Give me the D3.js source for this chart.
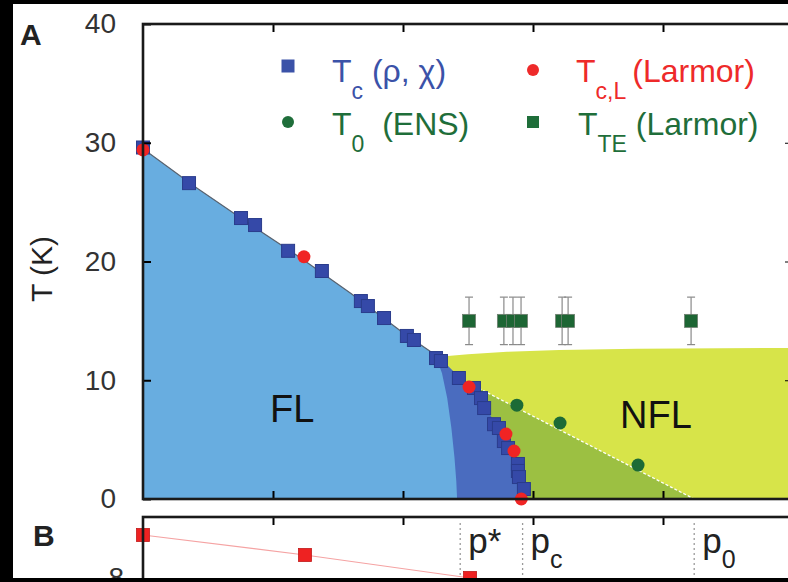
<!DOCTYPE html>
<html lang="en">
<head>
<meta charset="UTF-8">
<script src="https://cdn.jsdelivr.net/npm/d3@7"></script>
<title>Phase diagram</title>
<style>
	body { margin: 0; background: #000; }
	svg { display: block; }
	text { font-family: "Liberation Sans", Arial, sans-serif; white-space: pre; }
</style>
</head>
<body>
<div id="chart"></div>
<script>
	/*------------------- data (p in kbar, T in K) -------------------*/
	// T_c from resistivity / susceptibility
	const tcP = [0, 1.77, 3.77, 4.31, 5.58, 6.88, 8.38, 8.65, 9.27, 10.15, 10.42, 11.27, 11.46, 12.15, 12.73, 13.0, 13.12, 13.5, 13.69, 13.88, 14.04, 14.42, 14.42, 14.46, 14.65];
	const tcT = [29.6, 26.6, 23.66, 23.07, 20.9, 19.2, 16.67, 16.25, 15.24, 13.73, 13.39, 11.87, 11.62, 10.19, 9.35, 8.5, 7.66, 6.3, 5.98, 4.88, 4.29, 2.95, 2.36, 1.85, 0.84];
	// T_c,L from Larmor diffraction
	const tclP = [0, 6.19, 12.54, 13.96, 14.27, 14.55];
	const tclT = [29.4, 20.4, 9.43, 5.47, 4.04, 0];
	// T_0 from ENS
	const t0P = [14.38, 16.04, 19.04];
	const t0T = [7.9, 6.4, 2.86];
	// T_TE from Larmor diffraction, with error
	const tteP = [12.54, 13.88, 14.23, 14.54, 16.12, 16.35, 21.08];
	const tteT = [15, 15, 15, 15, 15, 15, 15];
	const tteErr = [2, 2, 2, 2, 2, 2, 2];

	// phase boundaries
	const tcLine = [[0, 29.5], [2, 26.3], [4, 23.3], [6, 20.4], [8, 17.3], [10, 14.0], [11, 12.5], [11.5, 11.7], [12.15, 10.3], [13.0, 8.5], [13.5, 6.5], [13.95, 4.8], [14.42, 2.9], [14.55, 1.8], [14.68, 0.8], [14.75, 0]];
	const flEdge = [[11.25, 12.1], [11.5, 10.6], [11.7, 8.5], [11.86, 6], [11.98, 3.5], [12.05, 1.5], [12.08, 0]];
	const nflTop = [[11.5, 12.0], [12.5, 12.2], [14, 12.4], [16, 12.55], [19, 12.65], [25, 12.72]];
	const t0Line = [[12.4, 9.9], [21.2, 0]];

	// panel B
	const bP = [0, 6.23, 12.58];
	const bV = [8.43, 8.23, 8.0];

	const pTicks = [5, 10, 15, 20];
	const tTicks = [0, 10, 20, 30, 40];
	const markP = [12.2, 14.6, 21.2];
	const markName = ["p*", "p", "p"];
	const markSub = ["", "c", "0"];

	const legMain = ["T", "T", "T", "T"];
	const legSub = ["c", "0", "c,L", "TE"];
	const legRest = [" (ρ, χ)", "  (ENS)", "(Larmor)", " (Larmor)"];
	const legColor = ["#3b52a8", "#1f6e3a", "#ee2a2a", "#1f6e3a"];
	const legShape = ["square", "circle", "circle", "tesquare"];

	/*------------------- setup -------------------*/
	const W = 788, H = 582;
	const svg = d3.select("#chart").append("svg").attr("width", W).attr("height", H);
	svg.append("rect").attr("width", W).attr("height", H).attr("fill", "#fff");

	const x = d3.scaleLinear().domain([0, 25]).range([143, 793]);
	const y = d3.scaleLinear().domain([0, 40]).range([499, 24]);
	const yB = d3.scaleLinear().domain([8, 9]).range([578, 478]);

	const line = d3.line().x(d => x(d[0])).y(d => y(d[1]));

	/*------------------- regions -------------------*/
	// NFL (yellow)
	svg.append("path")
		.attr("d", line(nflTop.concat([[25, 0], [11.5, 0]])) + "Z")
		.attr("fill", "#d7e449");
	// below T0 (olive)
	svg.append("path")
		.attr("d", line(t0Line.concat([[12.4, 0]])) + "Z")
		.attr("fill", "#9cc042");
	// ordered region under Tc (dark blue)
	svg.append("path")
		.attr("d", line(tcLine.concat([[0, 0]])) + "Z")
		.attr("fill", "#4a6cbf");
	// FL part (light blue)
	const flPoly = tcLine.filter(d => d[0] < 11.25).concat(flEdge, [[0, 0]]);
	svg.append("path")
		.attr("d", line(flPoly) + "Z")
		.attr("fill", "#68ade0");

	// Tc boundary line
	svg.append("path")
		.attr("d", line(tcLine.filter(d => d[0] <= 11.5)))
		.attr("fill", "none").attr("stroke", "#5a6470").attr("stroke-width", 1.2);
	// T0 dashed line
	svg.append("path")
		.attr("d", line(t0Line))
		.attr("fill", "none").attr("stroke", "#fff").attr("stroke-width", 1.3)
		.attr("stroke-dasharray", "3,2");

	svg.append("text").attr("x", 270).attr("y", 422).attr("font-size", 38).attr("fill", "#111").text("FL");
	svg.append("text").attr("x", 620).attr("y", 428).attr("font-size", 38).attr("fill", "#111").text("NFL");

	/*------------------- markers -------------------*/
	const sq = 13;
	// T_TE error bars
	const te = svg.append("g");
	tteP.forEach((p, i) => {
		const cx = x(p), y1 = y(tteT[i] + tteErr[i]), y2 = y(tteT[i] - tteErr[i]);
		te.append("line").attr("x1", cx).attr("x2", cx).attr("y1", y1).attr("y2", y2)
			.attr("stroke", "#8a8a8a").attr("stroke-width", 1.2);
		[y1, y2].forEach(yy => te.append("line").attr("x1", cx - 4).attr("x2", cx + 4)
			.attr("y1", yy).attr("y2", yy).attr("stroke", "#8a8a8a").attr("stroke-width", 1.2));
	});
	te.selectAll("rect").data(tteP).enter().append("rect")
		.attr("x", d => x(d) - sq / 2).attr("y", (d, i) => y(tteT[i]) - sq / 2)
		.attr("width", sq).attr("height", sq)
		.attr("fill", "#1d6634").attr("stroke", "#6f7f70").attr("stroke-width", 0.8);

	// Tc squares
	svg.append("g").selectAll("rect").data(tcP).enter().append("rect")
		.attr("x", d => x(d) - sq / 2).attr("y", (d, i) => y(tcT[i]) - sq / 2)
		.attr("width", sq).attr("height", sq)
		.attr("fill", "#3549a8").attr("stroke", "#2a3c8c").attr("stroke-width", 1);

	// T0 circles
	svg.append("g").selectAll("circle").data(t0P).enter().append("circle")
		.attr("cx", d => x(d)).attr("cy", (d, i) => y(t0T[i])).attr("r", 6.5)
		.attr("fill", "#1c6b36");

	// Tc,L circles
	svg.append("g").selectAll("circle").data(tclP).enter().append("circle")
		.attr("cx", d => x(d)).attr("cy", (d, i) => y(tclT[i])).attr("r", 6.5)
		.attr("fill", "#f02424");

	/*------------------- legend -------------------*/
	const legX = [288, 288, 533, 533], legY = [66, 122, 70, 122];
	const txtX = [332, 332, 576, 578], baseY = [82, 135, 82, 135];
	const restDx = [0, 0, 6, 0];
	legMain.forEach((m, i) => {
		const c = legColor[i];
		if (legShape[i] == "circle") {
			svg.append("circle").attr("cx", legX[i]).attr("cy", legY[i]).attr("r", 6).attr("fill", c);
		} else {
			const s = legShape[i] == "square" ? 13 : 12;
			svg.append("rect").attr("x", legX[i] - s / 2).attr("y", legY[i] - s / 2)
				.attr("width", s).attr("height", s).attr("fill", c);
		}
		const t = svg.append("text").attr("x", txtX[i]).attr("y", baseY[i])
			.attr("font-size", 32).attr("fill", c);
		t.append("tspan").text(m);
		t.append("tspan").attr("font-size", 23).attr("dy", 17).text(legSub[i]);
		t.append("tspan").attr("dy", -17).attr("dx", restDx[i]).text(legRest[i]);
	});

	/*------------------- axes panel A -------------------*/
	const axL = svg.append("g").attr("transform", `translate(${x(0)},0)`)
		.call(d3.axisLeft(y).tickValues(tTicks).tickSizeInner(-8).tickSizeOuter(0).tickPadding(27));
	axL.select(".domain").remove();
	axL.selectAll("text").attr("font-size", 28).attr("fill", "#333").style("font-family", "Liberation Sans, Arial, sans-serif");
	axL.selectAll("line").attr("stroke-width", 2);

	const axR = svg.append("g").attr("transform", `translate(${x(25)},0)`)
		.call(d3.axisRight(y).tickValues([10, 20, 30]).tickSize(-8).tickFormat(""));
	axR.select(".domain").remove();

	const axT = svg.append("g").attr("transform", `translate(0,${y(40)})`)
		.call(d3.axisTop(x).tickValues(pTicks).tickSize(-8).tickFormat(""));
	axT.select(".domain").remove();
	axT.selectAll("line").attr("stroke-width", 2);

	const axB = svg.append("g").attr("transform", `translate(0,${y(0)})`)
		.call(d3.axisBottom(x).tickValues(pTicks).tickSize(-8).tickFormat(""));
	axB.select(".domain").remove();
	axB.selectAll("line").attr("stroke-width", 2);

	svg.append("rect").attr("x", x(0)).attr("y", y(40)).attr("width", x(25) - x(0)).attr("height", y(0) - y(40))
		.attr("fill", "none").attr("stroke", "#1a1a1a").attr("stroke-width", 2.6);

	svg.append("text").attr("transform", "translate(52,269) rotate(-90)")
		.attr("text-anchor", "middle").attr("font-size", 30).attr("fill", "#222").text("T (K)");
	svg.append("text").attr("x", 20).attr("y", 45).attr("font-size", 30).attr("font-weight", "bold").attr("fill", "#222").text("A");

	/*------------------- panel B -------------------*/
	const bTop = 517;
	svg.append("g").selectAll("line").data(markP).enter().append("line")
		.attr("x1", d => x(d)).attr("x2", d => x(d)).attr("y1", 523).attr("y2", 582)
		.attr("stroke", "#9a9a9a").attr("stroke-width", 1.3).attr("stroke-dasharray", "2,3");

	markP.forEach((p, i) => {
		const t = svg.append("text").attr("x", x(p) + 8).attr("y", 553)
			.attr("font-size", 35).attr("fill", "#222");
		t.append("tspan").text(markName[i]);
		if (markSub[i]) t.append("tspan").attr("font-size", 25).attr("dy", 15).text(markSub[i]);
	});

	svg.append("path")
		.datum(bP)
		.attr("d", d3.line().x(d => x(d)).y((d, i) => yB(bV[i])))
		.attr("fill", "none").attr("stroke", "#f5a3a3").attr("stroke-width", 1.2);
	svg.append("g").selectAll("rect").data(bP).enter().append("rect")
		.attr("x", d => x(d) - 6.5).attr("y", (d, i) => yB(bV[i]) - 6.5)
		.attr("width", 13).attr("height", 13)
		.attr("fill", "#ee2222").attr("stroke", "#c01a1a").attr("stroke-width", 0.8);

	const axBT = svg.append("g").attr("transform", `translate(0,${bTop})`)
		.call(d3.axisTop(x).tickValues(pTicks).tickSize(-8).tickFormat(""));
	axBT.select(".domain").remove();
	axBT.selectAll("line").attr("stroke-width", 2);

	const axBL = svg.append("g").attr("transform", `translate(${x(0)},0)`)
		.call(d3.axisLeft(yB).tickValues([8]).tickFormat(d3.format("d")).tickSizeInner(-8).tickSizeOuter(0).tickPadding(19));
	axBL.select(".domain").remove();
	axBL.selectAll("text").attr("font-size", 28).attr("fill", "#333").style("font-family", "Liberation Sans, Arial, sans-serif");

	svg.append("rect").attr("x", x(0)).attr("y", bTop).attr("width", x(25) - x(0)).attr("height", 120)
		.attr("fill", "none").attr("stroke", "#1a1a1a").attr("stroke-width", 2.6);
	svg.append("text").attr("x", 33).attr("y", 546).attr("font-size", 30).attr("font-weight", "bold").attr("fill", "#222").text("B");

	/*------------------- black border -------------------*/
	svg.append("rect").attr("width", W).attr("height", 4).attr("fill", "#000");
	svg.append("rect").attr("width", 13).attr("height", H).attr("fill", "#000");
	svg.append("rect").attr("y", 578).attr("width", W).attr("height", 4).attr("fill", "#000");
</script>
</body>
</html>
